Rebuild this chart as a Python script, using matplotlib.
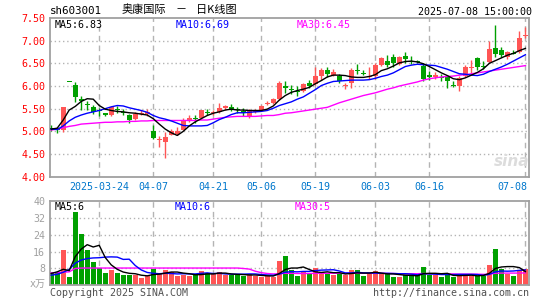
import matplotlib
matplotlib.use('Agg')
import matplotlib.pyplot as plt
import matplotlib.transforms as mtransforms
import numpy as np
import pandas as pd

# ---------------- data ----------------
holidays = ['2025-04-04', '2025-05-01', '2025-05-02', '2025-05-05', '2025-06-02']
dates = [d.strftime('%Y-%m-%d') for d in pd.bdate_range('2025-03-12', '2025-07-08')
         if d.strftime('%Y-%m-%d') not in holidays]

opens = [5.08, 5.06, 5.03, 6.09, 6.02, 5.72, 5.61, 5.53, 5.47, 5.40,
         5.35, 5.50, 5.44, 5.36, 5.27, 5.38, 5.39, 5.00, 4.82, 4.77,
         4.93, 4.94, 5.03, 5.23, 5.31, 5.29, 5.44, 5.41, 5.42, 5.51,
         5.53, 5.51, 5.45, 5.32, 5.44, 5.47, 5.62, 5.62, 5.71, 6.01,
         5.94, 5.91, 5.89, 6.07, 6.04, 6.21, 6.35, 6.24, 6.21, 6.01,
         6.06, 6.36, 6.29, 6.21, 6.21, 6.46, 6.56, 6.64, 6.49, 6.66,
         6.57, 6.55, 6.45, 6.24, 6.19, 6.20, 6.19, 6.03, 5.99, 6.21,
         6.40, 6.62, 6.45, 6.52, 6.84, 6.80, 6.63, 6.74, 6.76, 7.12]
highs = [5.15, 5.10, 5.54, 6.09, 6.09, 5.77, 5.67, 5.58, 5.51, 5.41,
         5.55, 5.56, 5.50, 5.38, 5.43, 5.48, 5.50, 5.13, 4.90, 4.99,
         5.06, 5.10, 5.29, 5.36, 5.37, 5.48, 5.49, 5.47, 5.62, 5.58,
         5.60, 5.53, 5.51, 5.49, 5.49, 5.58, 5.66, 5.73, 6.10, 6.11,
         6.02, 5.99, 6.07, 6.14, 6.42, 6.40, 6.42, 6.37, 6.27, 6.07,
         6.39, 6.49, 6.35, 6.43, 6.50, 6.65, 6.68, 6.70, 6.66, 6.75,
         6.66, 6.58, 6.50, 6.33, 6.32, 6.26, 6.25, 6.10, 6.21, 6.47,
         6.58, 6.64, 6.55, 7.00, 7.34, 6.85, 6.77, 6.79, 7.21, 7.30]
lows = [5.01, 4.96, 4.99, 6.09, 5.65, 5.46, 5.47, 5.38, 5.33, 5.33,
        5.33, 5.40, 5.36, 5.18, 5.25, 5.35, 5.33, 4.83, 4.65, 4.42,
        4.91, 4.92, 5.02, 5.20, 5.19, 5.27, 5.35, 5.37, 5.41, 5.48,
        5.44, 5.40, 5.34, 5.30, 5.40, 5.45, 5.58, 5.60, 5.70, 5.85,
        5.82, 5.78, 5.86, 5.95, 6.02, 6.14, 6.20, 6.22, 6.06, 5.94,
        5.96, 6.26, 6.24, 6.15, 6.15, 6.45, 6.43, 6.43, 6.47, 6.50,
        6.48, 6.50, 6.10, 6.13, 6.15, 6.12, 5.96, 5.98, 5.90, 6.19,
        6.25, 6.35, 6.38, 6.51, 6.63, 6.63, 6.60, 6.70, 6.73, 7.06]
closes = [5.05, 5.03, 5.54, 6.09, 5.75, 5.66, 5.60, 5.43, 5.45, 5.36,
          5.53, 5.48, 5.42, 5.24, 5.38, 5.41, 5.42, 4.86, 4.83, 4.88,
          5.00, 5.01, 5.25, 5.30, 5.29, 5.47, 5.42, 5.43, 5.51, 5.56,
          5.47, 5.49, 5.40, 5.46, 5.46, 5.57, 5.64, 5.71, 6.06, 5.95,
          5.92, 5.89, 6.04, 6.01, 6.22, 6.36, 6.26, 6.32, 6.10, 6.03,
          6.35, 6.33, 6.26, 6.23, 6.46, 6.62, 6.46, 6.50, 6.64, 6.60,
          6.55, 6.53, 6.15, 6.20, 6.25, 6.19, 6.10, 5.99, 6.18, 6.41,
          6.41, 6.43, 6.43, 6.82, 6.71, 6.69, 6.74, 6.72, 7.06, 7.13]

ma5 = [5.05, 5.07, 5.25, 5.47, 5.55, 5.66, 5.72, 5.71, 5.57, 5.49,
       5.46, 5.44, 5.43, 5.41, 5.40, 5.38, 5.36, 5.28, 5.16, 5.05,
       4.97, 4.91, 5.00, 5.12, 5.21, 5.28, 5.35, 5.40, 5.43, 5.47,
       5.49, 5.47, 5.47, 5.46, 5.46, 5.46, 5.49, 5.56, 5.69, 5.79,
       5.86, 5.90, 5.93, 5.97, 6.05, 6.12, 6.20, 6.24, 6.24, 6.23,
       6.20, 6.19, 6.19, 6.21, 6.25, 6.34, 6.38, 6.44, 6.51, 6.54,
       6.55, 6.53, 6.49, 6.43, 6.36, 6.29, 6.23, 6.16, 6.14, 6.18,
       6.24, 6.30, 6.38, 6.50, 6.56, 6.62, 6.68, 6.72, 6.78, 6.83]
ma10 = [5.05, 5.04, 5.12, 5.23, 5.31, 5.36, 5.40, 5.43, 5.46, 5.50,
        5.54, 5.57, 5.56, 5.52, 5.49, 5.46, 5.42, 5.35, 5.30, 5.27,
        5.23, 5.18, 5.13, 5.12, 5.12, 5.12, 5.13, 5.19, 5.26, 5.31,
        5.37, 5.41, 5.41, 5.42, 5.43, 5.44, 5.46, 5.51, 5.57, 5.61,
        5.65, 5.71, 5.76, 5.84, 5.92, 6.01, 6.06, 6.10, 6.11, 6.12,
        6.13, 6.13, 6.13, 6.14, 6.17, 6.21, 6.24, 6.29, 6.36, 6.43,
        6.46, 6.48, 6.47, 6.46, 6.45, 6.41, 6.37, 6.32, 6.27, 6.26,
        6.24, 6.23, 6.26, 6.32, 6.37, 6.42, 6.48, 6.55, 6.62, 6.69]
ma30 = [5.03, 5.05, 5.08, 5.11, 5.13, 5.16, 5.17, 5.18, 5.19, 5.20,
        5.20, 5.21, 5.21, 5.22, 5.22, 5.23, 5.23, 5.24, 5.24, 5.24,
        5.24, 5.24, 5.24, 5.24, 5.24, 5.25, 5.25, 5.27, 5.29, 5.31,
        5.32, 5.33, 5.33, 5.33, 5.33, 5.34, 5.35, 5.35, 5.37, 5.40,
        5.41, 5.43, 5.45, 5.47, 5.49, 5.51, 5.53, 5.58, 5.63, 5.67,
        5.71, 5.75, 5.79, 5.82, 5.85, 5.89, 5.93, 5.96, 6.00, 6.03,
        6.06, 6.09, 6.13, 6.16, 6.18, 6.20, 6.21, 6.22, 6.24, 6.25,
        6.27, 6.29, 6.31, 6.33, 6.35, 6.37, 6.39, 6.41, 6.43, 6.45]

volumes = [6.1, 6.1, 16.7, 3.9, 35.0, 24.3, 16.7, 11.0, 8.0, 5.8,
           7.2, 5.8, 4.8, 5.1, 4.8, 3.5, 4.5, 7.7, 5.9, 7.2,
           6.1, 4.5, 5.1, 4.5, 4.8, 6.7, 5.8, 5.4, 6.1, 4.8,
           4.8, 5.1, 4.5, 5.5, 4.5, 4.0, 4.2, 4.0, 11.5, 13.9,
           7.2, 4.3, 6.7, 5.6, 8.0, 6.1, 5.6, 4.8, 5.6, 4.8,
           7.2, 7.2, 4.3, 5.4, 6.7, 5.4, 5.4, 4.0, 4.0, 5.1,
           4.8, 4.8, 8.8, 5.1, 5.0, 4.0, 5.6, 3.8, 4.6, 5.4,
           4.5, 4.4, 4.4, 9.6, 17.2, 7.7, 5.6, 4.3, 7.2, 7.7]
vol_ma5 = [5.6, 6.4, 7.6, 7.0, 13.6, 17.2, 19.3, 18.2, 19.0, 13.2,
           9.7, 7.6, 6.3, 5.7, 5.5, 4.8, 4.5, 5.1, 5.3, 5.8,
           6.3, 6.3, 5.8, 5.5, 5.0, 5.1, 5.4, 5.4, 5.8, 5.8,
           5.4, 5.2, 5.1, 4.9, 4.9, 4.7, 4.5, 4.4, 5.6, 7.5,
           8.2, 8.2, 8.7, 7.5, 6.4, 6.1, 6.4, 6.0, 6.0, 5.4,
           5.6, 5.9, 5.8, 5.8, 6.2, 5.8, 5.4, 5.4, 5.1, 4.8,
           4.7, 4.5, 5.5, 5.7, 5.7, 5.5, 5.7, 4.7, 4.6, 4.7,
           4.8, 4.5, 4.7, 5.7, 8.0, 8.7, 8.9, 8.9, 8.4, 6.5]
vol_ma10 = [4.8, 5.2, 6.2, 7.5, 10.5, 12.0, 12.7, 13.0, 13.1, 13.4,
            13.5, 13.4, 12.3, 12.4, 9.4, 7.3, 6.1, 5.7, 5.5, 5.7,
            5.6, 5.4, 5.5, 5.4, 5.4, 5.7, 5.9, 5.6, 5.7, 5.4,
            5.3, 5.3, 5.3, 5.4, 5.4, 5.1, 4.9, 4.8, 5.3, 6.2,
            6.5, 6.4, 6.6, 6.6, 7.0, 7.2, 7.3, 7.4, 6.8, 5.9,
            5.9, 6.2, 5.9, 5.9, 5.8, 5.7, 5.7, 5.6, 5.5, 5.5,
            5.3, 5.0, 5.5, 5.4, 5.3, 5.1, 5.1, 5.1, 5.2, 5.2,
            5.2, 5.1, 4.7, 5.2, 6.4, 6.8, 6.7, 6.8, 7.1, 7.3]
vol_ma30 = [5.9, 6.0, 6.2, 6.4, 8.0, 8.2, 8.2, 8.2, 8.2, 8.2,
            8.2, 8.2, 8.2, 8.2, 8.2, 8.2, 8.2, 8.2, 8.2, 8.2,
            8.2, 8.2, 8.2, 8.2, 8.2, 8.2, 8.2, 8.2, 8.2, 8.2,
            8.2, 8.2, 8.0, 7.7, 6.7, 6.0, 5.6, 5.4, 5.5, 5.7,
            5.7, 5.6, 5.6, 5.6, 5.7, 5.7, 5.7, 5.7, 5.7, 5.6,
            5.7, 5.7, 5.7, 5.7, 5.7, 5.7, 5.6, 5.6, 5.5, 5.5,
            5.5, 5.5, 5.6, 5.5, 5.5, 5.4, 5.4, 5.4, 5.3, 5.3,
            5.3, 5.3, 5.2, 5.3, 5.7, 5.8, 5.8, 5.8, 5.8, 5.9]

tick_dates = ['2025-03-24', '2025-04-07', '2025-04-21', '2025-05-06',
              '2025-05-19', '2025-06-03', '2025-06-16', '2025-07-08']
tick_labels = ['2025-03-24', '04-07', '04-21', '05-06', '05-19', '06-03', '06-16', '07-08']
price_ticks = [4.00, 4.50, 5.00, 5.50, 6.00, 6.50, 7.00, 7.50]
vol_ticks = [8, 16, 24, 32, 40]

# ---------------- style ----------------
RED = '#ff5555'
GREEN = '#00a000'
FRAME = '#a0a0a0'
GRID = '#b4b4b4'
MONO = 'DejaVu Sans Mono'
FS = 7.2
W, H = 545, 300

fig = plt.figure(figsize=(W / 100, H / 100), dpi=100)
fig.patch.set_facecolor('white')


def rect(l, t, r, b):
    return [l / W, 1 - b / H, (r - l) / W, (b - t) / H]


def fx(x):
    return x / W


def fy(y):
    return 1 - y / H


ax = fig.add_axes(rect(50, 18, 529, 176.7))
axv = fig.add_axes(rect(50, 201.1, 529, 285.3))

x = np.arange(len(dates))
o = np.array(opens)
c = np.array(closes)
h = np.array(highs)
lo = np.array(lows)
up = c > o
cols = np.where(up, RED, GREEN)
tick_idx = [dates.index(d) for d in tick_dates]

for a in (ax, axv):
    a.set_xlim(-0.2, 79.6)
    for s in a.spines.values():
        s.set_color(FRAME)
        s.set_linewidth(1.3)
    a.set_xticks([])
    a.tick_params(axis='y', length=0, pad=3.5)
    for t in tick_idx:
        a.axvline(t, color=GRID, lw=1.0, ls=(0, (4, 3)), zorder=0)

# price panel
ax.set_ylim(4.0, 7.5)
for p in price_ticks[1:-1]:
    ax.axhline(p, color=GRID, lw=1.0, ls=(0, (1, 2)), zorder=0)
ax.set_yticks(price_ticks)
ax.set_yticklabels(['%.2f' % p for p in price_ticks], color='#ff0000',
                   fontsize=FS, family=MONO)

ax.vlines(x, lo, h, colors=cols, lw=1.0, zorder=2)
body_h = np.maximum(np.abs(c - o), 0.022)
body_b = np.where(np.abs(c - o) < 0.022, np.minimum(o, c) - 0.011, np.minimum(o, c))
ax.bar(x, body_h, bottom=body_b, width=0.8, color=cols, linewidth=0, zorder=3)

ax.plot(x, ma30, color='#ff00ff', lw=1.0, zorder=4)
ax.plot(x, ma10, color='#0000ff', lw=1.0, zorder=4)
ax.plot(x, ma5, color='#000000', lw=1.0, zorder=4)

ax.text(fx(55), fy(25), 'MA5:%.2f' % ma5[-1], transform=fig.transFigure, color='black',
        fontsize=FS, family=MONO, va='center', ha='left')
ax.text(fx(175.5), fy(25), 'MA10:%.2f' % ma10[-1], transform=fig.transFigure, color='#0000ff',
        fontsize=FS, family=MONO, va='center', ha='left')
ax.text(fx(296.5), fy(25), 'MA30:%.2f' % ma30[-1], transform=fig.transFigure, color='#ff00ff',
        fontsize=FS, family=MONO, va='center', ha='left')

# watermark
ax.text(fx(512), fy(161), 'sina', transform=fig.transFigure, color='#dcdcdc',
        fontsize=11, fontweight='bold', fontstyle='italic', ha='center', va='center', zorder=1)

# date labels
trans = mtransforms.blended_transform_factory(ax.transData, fig.transFigure)
for i, (t, lab) in enumerate(zip(tick_idx, tick_labels)):
    if i == len(tick_idx) - 1:
        ax.text(79.4, fy(187), lab, transform=trans, color='#0077cc', fontsize=FS,
                family=MONO, ha='right', va='center')
    else:
        ax.text(t, fy(187), lab, transform=trans, color='#0077cc', fontsize=FS,
                family=MONO, ha='center', va='center')

# volume panel
axv.set_ylim(0, 40)
for v in vol_ticks[:-1]:
    axv.axhline(v, color=GRID, lw=1.0, ls=(0, (1, 2)), zorder=0)
axv.set_yticks(vol_ticks)
axv.set_yticklabels([str(v) for v in vol_ticks], color='#a0a0a0', fontsize=FS, family=MONO)
axv.bar(x, volumes, width=0.85, color=cols, linewidth=0, zorder=2)
axv.plot(x, vol_ma30, color='#ff00ff', lw=1.0, zorder=4)
axv.plot(x, vol_ma10, color='#0000ff', lw=1.0, zorder=4)
axv.plot(x, vol_ma5, color='#000000', lw=1.0, zorder=4)
fig.text(fx(45.5), fy(284), 'x万', color='#a0a0a0', fontsize=FS,
         family=[MONO, 'Noto Sans CJK SC'], ha='right', va='center')

fig.text(fx(55), fy(207), 'MA5:%d' % int(vol_ma5[-1]), color='black', fontsize=FS,
         family=MONO, va='center', ha='left')
fig.text(fx(175), fy(207), 'MA10:6', color='#0000ff', fontsize=FS,
         family=MONO, va='center', ha='left')
fig.text(fx(295), fy(207), 'MA30:%d' % int(vol_ma30[-1]), color='#ff00ff', fontsize=FS,
         family=MONO, va='center', ha='left')

# header
fig.text(fx(50), fy(11.5), 'sh603001', color='black', fontsize=FS + 0.6, family=MONO,
         va='center', ha='left')
fig.text(fx(121.5), fy(10), '奥康国际', color='black', fontsize=8,
         family=['Noto Sans CJK SC'], va='center', ha='left')
fig.text(fx(181), fy(10), '－', color='black', fontsize=8,
         family=['Noto Sans CJK SC'], va='center', ha='center')
fig.text(fx(195.5), fy(10), '日K线图', color='black', fontsize=8,
         family=['Noto Sans CJK SC'], va='center', ha='left')
fig.text(fx(532), fy(12), '2025-07-08 15:00:00', color='black', fontsize=FS,
         family=MONO, va='center', ha='right')

# footer
fig.text(fx(50), fy(292.5), 'Copyright 2025 SINA.COM', color='#505050', fontsize=FS,
         family=MONO, va='center', ha='left')
fig.text(fx(529), fy(292.5), 'http://finance.sina.com.cn', color='#505050', fontsize=FS,
         family=MONO, va='center', ha='right')

fig.savefig('out.png', dpi=100, facecolor='white')
